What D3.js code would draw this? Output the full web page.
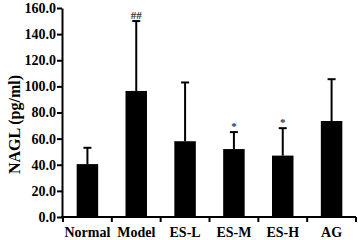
<!DOCTYPE html>
<html>
<head>
<meta charset="utf-8">
<script src="https://cdn.jsdelivr.net/npm/d3@7"></script>
<style>
  body { margin: 0; background: #fff; }
  text { font-family: "Liberation Serif", "Times New Roman", serif; font-weight: bold; }
</style>
</head>
<body>
<div id="chart"></div>
<script>
// data
const groups = ["Normal", "Model", "ES-L", "ES-M", "ES-H", "AG"];
const means = [40.5, 96.5, 58, 52, 47, 73.5];
const sds = [12.5, 53.5, 45, 13, 21, 32];
const marks = ["", "##", "", "*", "*", ""];
const yTicks = [0, 20, 40, 60, 80, 100, 120, 140, 160];

const width = 358, height = 240;
const margin = {top: 8, right: 2, bottom: 23, left: 62};

const svg = d3.select("#chart").append("svg")
    .attr("width", width)
    .attr("height", height);

const x = d3.scaleBand()
    .domain(groups)
    .range([margin.left + 1, width - margin.right])
    .paddingInner(0)
    .paddingOuter(0);

const y = d3.scaleLinear()
    .domain([0, 160])
    .range([height - margin.bottom, margin.top]);

const barW = x.bandwidth() * 0.44;

// bars
svg.selectAll(".bar")
    .data(groups)
    .join("rect")
    .attr("class", "bar")
    .attr("x", d => x(d) + x.bandwidth() / 2 - barW / 2)
    .attr("y", (d, i) => y(means[i]))
    .attr("width", barW)
    .attr("height", (d, i) => y(0) - y(means[i]))
    .attr("fill", "#000");

// error bars (upper only)
svg.selectAll(".err")
    .data(groups)
    .join("line")
    .attr("class", "err")
    .attr("x1", d => x(d) + x.bandwidth() / 2)
    .attr("x2", d => x(d) + x.bandwidth() / 2)
    .attr("y1", (d, i) => y(means[i]))
    .attr("y2", (d, i) => y(means[i] + sds[i]))
    .attr("stroke", "#000")
    .attr("stroke-width", 2);

svg.selectAll(".cap")
    .data(groups)
    .join("line")
    .attr("class", "cap")
    .attr("x1", d => x(d) + x.bandwidth() / 2 - 4)
    .attr("x2", d => x(d) + x.bandwidth() / 2 + 4)
    .attr("y1", (d, i) => y(means[i] + sds[i]))
    .attr("y2", (d, i) => y(means[i] + sds[i]))
    .attr("stroke", "#000")
    .attr("stroke-width", 2);

// significance marks
svg.selectAll(".sig")
    .data(groups)
    .join("text")
    .attr("class", "sig")
    .attr("x", d => x(d) + x.bandwidth() / 2)
    .attr("y", (d, i) => y(means[i] + sds[i]) - 2)
    .attr("text-anchor", "middle")
    .attr("font-size", 11)
    .attr("fill", "#333")
    .text((d, i) => marks[i]);

// y axis
const yAxis = d3.axisLeft(y)
    .tickValues(yTicks)
    .tickFormat(d3.format(".1f"))
    .tickSize(5)
    .tickSizeOuter(0);

const gy = svg.append("g")
    .attr("transform", `translate(${margin.left},0)`)
    .call(yAxis);
gy.select(".domain").attr("stroke-width", 2);
gy.selectAll(".tick line").attr("stroke-width", 2);
gy.selectAll(".tick text")
    .attr("font-size", 14)
    .attr("font-family", "Liberation Serif, serif")
    .attr("font-weight", "bold")
    .attr("fill", "#000")
    .attr("x", -6);

// x axis with ticks at band boundaries
const gx = svg.append("g")
    .attr("transform", `translate(0,${y(0)})`);
gx.append("line")
    .attr("x1", margin.left - 1)
    .attr("x2", width - margin.right)
    .attr("stroke", "#000")
    .attr("stroke-width", 2);

const edges = groups.map(d => x(d)).concat([x.range()[1]]);
gx.selectAll(".xtick")
    .data(edges)
    .join("line")
    .attr("class", "xtick")
    .attr("x1", d => d)
    .attr("x2", d => d)
    .attr("y1", 0)
    .attr("y2", 5)
    .attr("stroke", "#000")
    .attr("stroke-width", 2);

gx.selectAll(".xlabel")
    .data(groups)
    .join("text")
    .attr("class", "xlabel")
    .attr("x", d => x(d) + x.bandwidth() / 2)
    .attr("y", 20)
    .attr("text-anchor", "middle")
    .attr("font-size", 14)
    .text(d => d);

// y label
svg.append("text")
    .attr("transform", `translate(20,${(y(0) + y(160)) / 2 + 12}) rotate(-90)`)
    .attr("text-anchor", "middle")
    .attr("font-size", 16)
    .text("NAGL (pg/ml)");
</script>
</body>
</html>
